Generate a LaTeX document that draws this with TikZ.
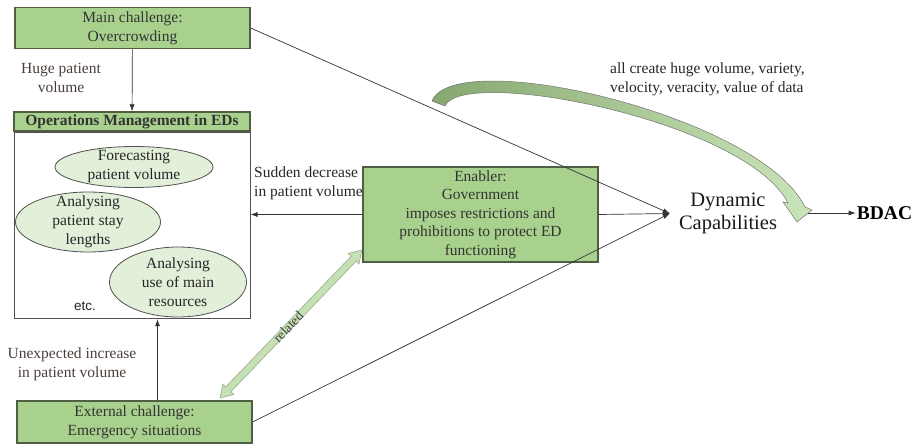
\documentclass[tikz,border=0pt]{standalone}
\usepackage{fontspec}
\setmainfont{Liberation Serif}
\setsansfont{Liberation Sans}
\usetikzlibrary{arrows.meta,positioning,shapes.geometric,calc}
\definecolor{boxgreen}{HTML}{A9D18E}
\definecolor{boxedge}{HTML}{4E5F43}
\definecolor{ellfill}{HTML}{E2EFD9}
\definecolor{elledge}{HTML}{505050}
\definecolor{lbltext}{HTML}{4A3E3A}
\definecolor{reledge}{HTML}{9AAE8C}
\definecolor{relfill}{HTML}{C5E0B4}
\definecolor{datadark}{HTML}{86A86F}
\definecolor{datalight}{HTML}{CBE4BA}
\tikzset{
  >={Latex[length=7pt,width=5pt]},
  font=\fontsize{15.5}{19}\selectfont,
  gbox/.style={draw=boxedge,line width=1.3pt,fill=boxgreen,inner sep=0pt,
               align=center,text=black!80},
  task/.style={ellipse,draw=elledge,line width=0.8pt,fill=ellfill,inner sep=-12pt,
               align=center,text=black!85},
  flow/.style={->,line width=0.7pt,draw=black!80},
  flowlbl/.style={text=lbltext,align=center,inner sep=0pt},
}

\begin{document}
\begin{tikzpicture}[x=1pt,y=-1pt]
  \useasboundingbox (0,0) rectangle (918,445);

  % left column: challenges and the operations block
  \node[gbox,minimum width=235pt,minimum height=41pt] (mc) at (132.5,28)
    {Main challenge:\\Overcrowding};
  \node[gbox,minimum width=236pt,minimum height=19pt,
        font=\bfseries\fontsize{15.5}{19}\selectfont] (opsh) at (132,121.5)
    {Operations Management in EDs};
  \node[draw=elledge,line width=1pt,minimum width=236pt,minimum height=186pt,
        below=0.5pt of opsh] (ops) {};
  \node[task,minimum width=158pt,minimum height=41pt] (fcast) at (134,167)
    {Forecasting\\patient volume};
  \node[task,minimum width=145pt,minimum height=60pt] (stay) at (88,222)
    {Analysing\\patient stay\\lengths};
  \node[task,minimum width=137pt,minimum height=70pt] (res) at (178,282)
    {Analysing\\use of main\\resources};
  \node[font=\sffamily\fontsize{13.5}{16}\selectfont,text=black!85,inner sep=0pt]
    (etc) at (85,306) {etc.};
  \node[gbox,minimum width=235pt,minimum height=42pt] (ext) at (134.5,422)
    {External challenge:\\Emergency situations};
  \node[flowlbl] (huge) at (61,78) {Huge patient\\volume};
  \node[flowlbl] (unexp) at (72,364) {Unexpected increase\\in patient volume};

  % enabler and outcome
  \node[flowlbl,align=left,anchor=west,text=black!85] (sudden) at (254,183)
    {Sudden decrease\\in patient volume};
  \node[gbox,minimum width=235pt,minimum height=95pt,
        font=\fontsize{15.5}{18.5}\selectfont] (en) at (480.5,214.5)
    {Enabler:\\Government\\imposes restrictions  and\\prohibitions to protect ED\\functioning};
  \node[font=\fontsize{20.5}{23}\selectfont,align=center,inner xsep=9pt,
        text=black!90] (dc) at (728,213.5) {Dynamic\\Capabilities};
  \node[font=\bfseries\fontsize{19.5}{23}\selectfont,inner sep=1pt] (bdac)
    at (884.5,213) {BDAC};
  \node[align=left,anchor=west,inner sep=0pt,text=black!85] (vlabel) at (610,79)
    {all create  huge volume, variety,\\velocity, veracity,  value of data};
  \coordinate (dataout) at (808,213);
  \coordinate (relA) at (220,398);
  \coordinate (relB) at (362,250);

  \draw[flow] (mc) -- (opsh);
  \draw[flow] ([xshift=23pt]ext.north) -- ([xshift=23pt]ext.north |- ops.south);
  \draw[flow] (en.west) -- (en.west -| ops.east);
  \draw[flow] (mc.east) -- (dc.west);
  \draw[flow] (en.east) -- (dc.west);
  \draw[flow] (ext.east) -- (dc.west);
  \draw[flow] (dataout) -- (bdac);

  % related: double block arrow
  \begin{scope}[shift={(relA)},rotate=46.2]
    \draw[draw=reledge,fill=relfill,line width=0.6pt]
      (0,0) -- (12,7.5) -- (12,3.5) -- (193,3.5) -- (193,7.5) -- (205,0)
      -- (193,-7.5) -- (193,-3.5) -- (12,-3.5) -- (12,-7.5) -- cycle;
  \end{scope}
  \path (relA) -- node[sloped,pos=0.48,font=\fontsize{13.5}{16}\selectfont,
        text=black!75,inner sep=0pt] (rel) {related} (relB);

  % curved block arrow towards BDAC
  \shadedraw[draw=black!55,line width=0.5pt,left color=datadark,right color=datalight]
    (432,101) .. controls (455,45) and (760,115) .. (805,207)
    -- (812,210) -- (797,222) -- (783,202) -- (788,203)
    .. controls (745,120) and (462,66) .. (445,106) -- cycle;
\end{tikzpicture}
\end{document}
